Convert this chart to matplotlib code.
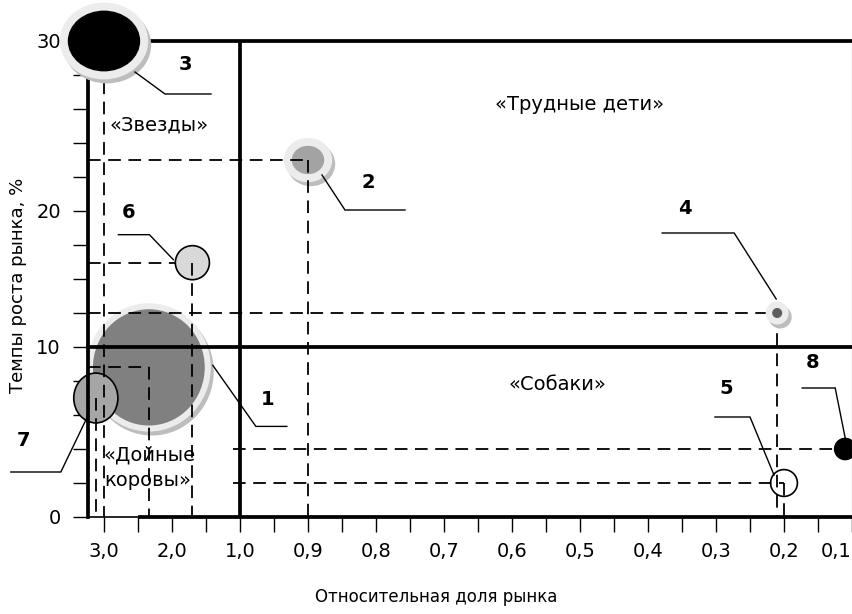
import numpy as np
import matplotlib
matplotlib.use("Agg")
import matplotlib.pyplot as plt
from matplotlib import transforms as mtransforms
from matplotlib.patches import Ellipse

plt.rcParams['font.family'] = ['DejaVu Sans']

# ---- portfolio data -------------------------------------------------------
products = ["1", "2", "3", "4", "5", "6", "7", "8"]
rel_share = [2.34, 0.90, 3.00, 0.21, 0.20, 1.70, 3.12, 0.11]   # relative market share
growth = [8.8, 23.0, 30.0, 12.5, 2.0, 16.2, 7.0, 4.0]          # market growth, %
volume = [32.5, 2.3, 11.0, 0.25, 1.8, 2.9, 5.5, 1.1]           # sales volume (bubble area)

# ---- axis ticks -------------------------------------------------------------
share_major = [3.0, 2.0, 1.0, 0.9, 0.8, 0.7, 0.6, 0.5, 0.4, 0.3, 0.2, 0.1]
share_labels = ["3,0", "2,0", "1,0", "0,9", "0,8", "0,7", "0,6", "0,5",
                "0,4", "0,3", "0,2", "0,1"]
share_minor = [2.5, 1.5, 0.95, 0.85, 0.75, 0.65, 0.55, 0.45, 0.35, 0.25, 0.15]
growth_major = [0, 10, 20, 30]
growth_labels = ["0", "10", "20", "30"]
growth_minor = [2, 4, 6, 8, 12.5, 15, 17.5, 22, 24, 26, 28]

# quadrant borders
share_border = 1.0
growth_border = 10

# ---- piecewise-linear scales ------------------------------------------------
share_knots = np.array(share_major[::-1])
share_pos = np.arange(len(share_major))[::-1] * 2.0
growth_knots = np.array(growth_major, float)
growth_pos = np.array([0.0, 5.0, 9.0, 14.0])


def piecewise(v, xk, yk):
    v = np.asarray(v, float)
    out = np.interp(v, xk, yk)
    s0 = (yk[1] - yk[0]) / (xk[1] - xk[0])
    s1 = (yk[-1] - yk[-2]) / (xk[-1] - xk[-2])
    out = np.where(v < xk[0], yk[0] + (v - xk[0]) * s0, out)
    out = np.where(v > xk[-1], yk[-1] + (v - xk[-1]) * s1, out)
    return out


def share_fwd(v):
    return piecewise(v, share_knots, share_pos)


def share_inv(p):
    return piecewise(p, share_pos[::-1], share_knots[::-1])


def growth_fwd(v):
    return piecewise(v, growth_knots, growth_pos)


def growth_inv(p):
    return piecewise(p, growth_pos, growth_knots)


W, H = 853, 614
fig = plt.figure(figsize=(W / 100, H / 100), dpi=100)
ax = fig.add_axes([88 / W, (H - 517) / H, (852 - 88) / W, (517 - 41) / H])
ax.set_xscale('function', functions=(share_fwd, share_inv))
ax.set_yscale('function', functions=(growth_fwd, growth_inv))
x_left = float(share_inv(-0.47))
# the share scale decreases to the right, so the limits are given low-to-high
ax.set_xlim(0.1, x_left)
ax.set_ylim(0, 30)

THICK = 2.7
ax.set_xticks(share_major)
ax.set_xticklabels(share_labels)
ax.set_xticks(share_minor, minor=True)
ax.set_yticks(growth_major)
ax.set_yticklabels(growth_labels)
ax.set_yticks(growth_minor, minor=True)
ax.tick_params(axis='both', which='both', direction='out', length=11,
               width=1.0, color='black', labelsize=14)
ax.tick_params(axis='x', which='both', pad=7)
ax.tick_params(axis='y', which='both', pad=8.5)
for lab in ax.get_xticklabels():
    if lab.get_text() == "0,1":
        lab.set_horizontalalignment('right')

for side in ('left', 'top'):
    ax.spines[side].set_linewidth(THICK)
ax.spines['bottom'].set_linewidth(1.2)
ax.spines['right'].set_linewidth(0.8)
ax.spines['right'].set_color('#a0a0a0')

# thick part of the bottom line and quadrant borders
ax.plot([2.5, 0.1], [0, 0], color='black', lw=THICK, solid_capstyle='butt',
        zorder=3, clip_on=False)
ax.plot([share_border, share_border], [0, 30], color='black', lw=THICK, zorder=3)
ax.plot([x_left, 0.1], [growth_border, growth_border], color='black', lw=THICK,
        zorder=3, clip_on=False)

# ---- bubble styles ------------------------------------------------------------
RING = '#ececec'
SHADOW = '#bdbdbd'
styles = {
    "1": dict(kind='3d', face='#808080', ring=6, aspect=1.04, z=2),
    "2": dict(kind='3d', face='#a3a3a3', ring=8, aspect=0.875, z=2),
    "3": dict(kind='3d', face='black', ring=8, aspect=0.84, z=6),
    "4": dict(kind='3d', face='#5f5f5f', ring=6.5, aspect=1.0, z=4),
    "5": dict(kind='flat', face='white', aspect=1.0, z=2),
    "6": dict(kind='flat', face='#d9d9d9', aspect=1.0, z=2),
    "7": dict(kind='flat', face='#a6a6a6', aspect=1.13, z=2.1),
    "8": dict(kind='flat', face='black', aspect=1.0, z=2),
}

# guide lines: where the horizontal guide starts, and whether a vertical one is drawn
guide_h_start = {"1": x_left, "2": x_left, "3": None, "4": x_left,
                 "5": 1.1, "6": x_left, "7": None, "8": 1.1}
guide_h_under = {"6"}
guide_v = {"1": True, "2": True, "3": True, "4": True,
           "5": True, "6": True, "7": True, "8": False}

# leader lines (pixel offsets from the bubble centre) and number positions
leaders = {
    "1": [(64, 2), (107, -59), (138, -59)],
    "2": [(14, -15), (37, -50), (97, -50)],
    "3": [(31, -31), (61, -53), (107, -53)],
    "4": [(-1, 14), (-43, 80), (-115, 80)],
    "5": [(-10, 8), (-34, 66), (-69, 66)],
    "6": [(-19, 3), (-43, 28), (-74, 28)],
    "7": [(-9, -20), (-35, -74), (-85, -74)],
    "8": [(0, 11), (-10, 61), (-43, 61)],
}
number_pos = {
    "1": (119, -32), "2": (60, -22), "3": (81, -23), "4": (-92, 105),
    "5": (-58, 95), "6": (-64, 50), "7": (-72, -43), "8": (-33, 86),
}

px_scale = mtransforms.Affine2D().scale(fig.dpi / 100.0)
DASH = (0, (7, 4.2))
DLW = 1.3

for name, xs, yg, vol in zip(products, rel_share, growth, volume):
    st = styles[name]
    at = px_scale + mtransforms.ScaledTranslation(xs, yg, ax.transData)
    r = 10.0 * np.sqrt(vol)
    k = np.sqrt(st['aspect'])
    w, h = 2 * r / k, 2 * r * k
    z = st['z']
    if st['kind'] == '3d':
        g = st['ring']
        ax.add_patch(Ellipse((3, -4), w + 2 * g, h + 2 * g, transform=at,
                             facecolor=SHADOW, edgecolor='none', zorder=z,
                             clip_on=False))
        ax.add_patch(Ellipse((0, 0), w + 2 * g, h + 2 * g, transform=at,
                             facecolor=RING, edgecolor='none', zorder=z,
                             clip_on=False))
        ax.add_patch(Ellipse((0, 0), w, h, transform=at, facecolor=st['face'],
                             edgecolor='none', zorder=z, clip_on=False))
    else:
        ax.add_patch(Ellipse((0, 0), w, h, transform=at, facecolor=st['face'],
                             edgecolor='black', lw=1.2, zorder=z, clip_on=False))

    # projection guides onto the axes
    if guide_h_start[name] is not None:
        hz = 1.5 if name in guide_h_under else 3.5
        ax.plot([guide_h_start[name], xs], [yg, yg], color='black', lw=DLW,
                linestyle=DASH, zorder=hz, clip_on=False)
    if guide_v[name]:
        ax.plot([xs, xs], [yg, 0], color='black', lw=DLW, linestyle=DASH,
                zorder=3.5, clip_on=False)

    # leader line and product number
    pts = np.array(leaders[name], float)
    ax.plot(pts[:, 0], pts[:, 1], color='black', lw=1.0, transform=at,
            zorder=7, clip_on=False, solid_joinstyle='miter')
    nx, ny = number_pos[name]
    ax.text(nx, ny, name, transform=at, ha='center', va='center',
            fontsize=14, fontweight='bold', zorder=8)


def fpos(x, y):
    return x / W, 1 - y / H


txt = dict(fontsize=14, color='black', zorder=9)
fig.text(*fpos(159, 125), "«Звезды»", ha='center', va='center', **txt)
fig.text(*fpos(580, 104), "«Трудные дети»", ha='center', va='center', **txt)
fig.text(*fpos(557, 384), "«Собаки»", ha='center', va='center', **txt)
fig.text(*fpos(104, 455), "«Дойные", ha='left', va='center', **txt)
fig.text(*fpos(104, 481), "коровы»", ha='left', va='center', **txt)

fig.text(*fpos(436, 597), "Относительная доля рынка", ha='center',
         va='center', fontsize=12)
fig.text(*fpos(18, 285), "Темпы роста рынка, %", ha='center', va='center',
         rotation=90, fontsize=13)

fig.savefig("out.png", dpi=100)
